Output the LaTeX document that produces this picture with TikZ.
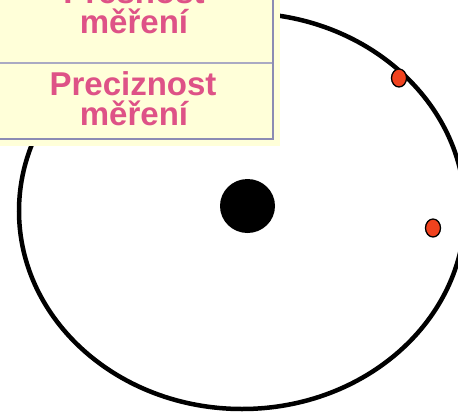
\documentclass[tikz,border=0pt]{standalone}
\usepackage{fontspec}
\setmainfont{Liberation Sans}
\definecolor{boxfill}{RGB}{255,255,217}
\definecolor{boxline}{RGB}{140,140,180}
\definecolor{divline}{RGB}{170,170,195}
\definecolor{labelpink}{RGB}{222,82,135}
\definecolor{dotred}{RGB}{240,66,30}
\tikzset{
  lbl/.style={text=labelpink, font=\bfseries\fontsize{33}{30}\selectfont, anchor=base, inner sep=0pt},
  reddot/.style={draw=black, line width=1.3pt, fill=dotred, ellipse, minimum width=15pt, minimum height=18pt, inner sep=0pt},
}
\usetikzlibrary{shapes.geometric}
\begin{document}
\begin{tikzpicture}[x=1pt,y=-1pt]
\useasboundingbox (0,0) rectangle (458,413);
\fill[white] (0,0) rectangle (458,413);
% big circle
\draw[line width=4.5pt] (242,211) ellipse [x radius=223, y radius=198];
% centre dot
\fill[black] (247.5,206) ellipse [x radius=27.5, y radius=27];
% red dots
\node[reddot] (d1) at (399,78) {};
\node[reddot] (d2) at (433,228) {};
% box
\fill[boxfill] (0,0) rectangle (280,146);
\draw[divline, line width=1.5pt] (0,63) -- (273,63);
\draw[boxline, line width=2.5pt] (273,0) -- (273,139) -- (0,139);
\node[lbl] (t1) at (134,3) {Přesnost};
\node[lbl] (t2) at (134,33) {měření};
\node[lbl] (t3) at (133,95) {Preciznost};
\node[lbl] (t4) at (134,125) {měření};
\end{tikzpicture}
\end{document}
